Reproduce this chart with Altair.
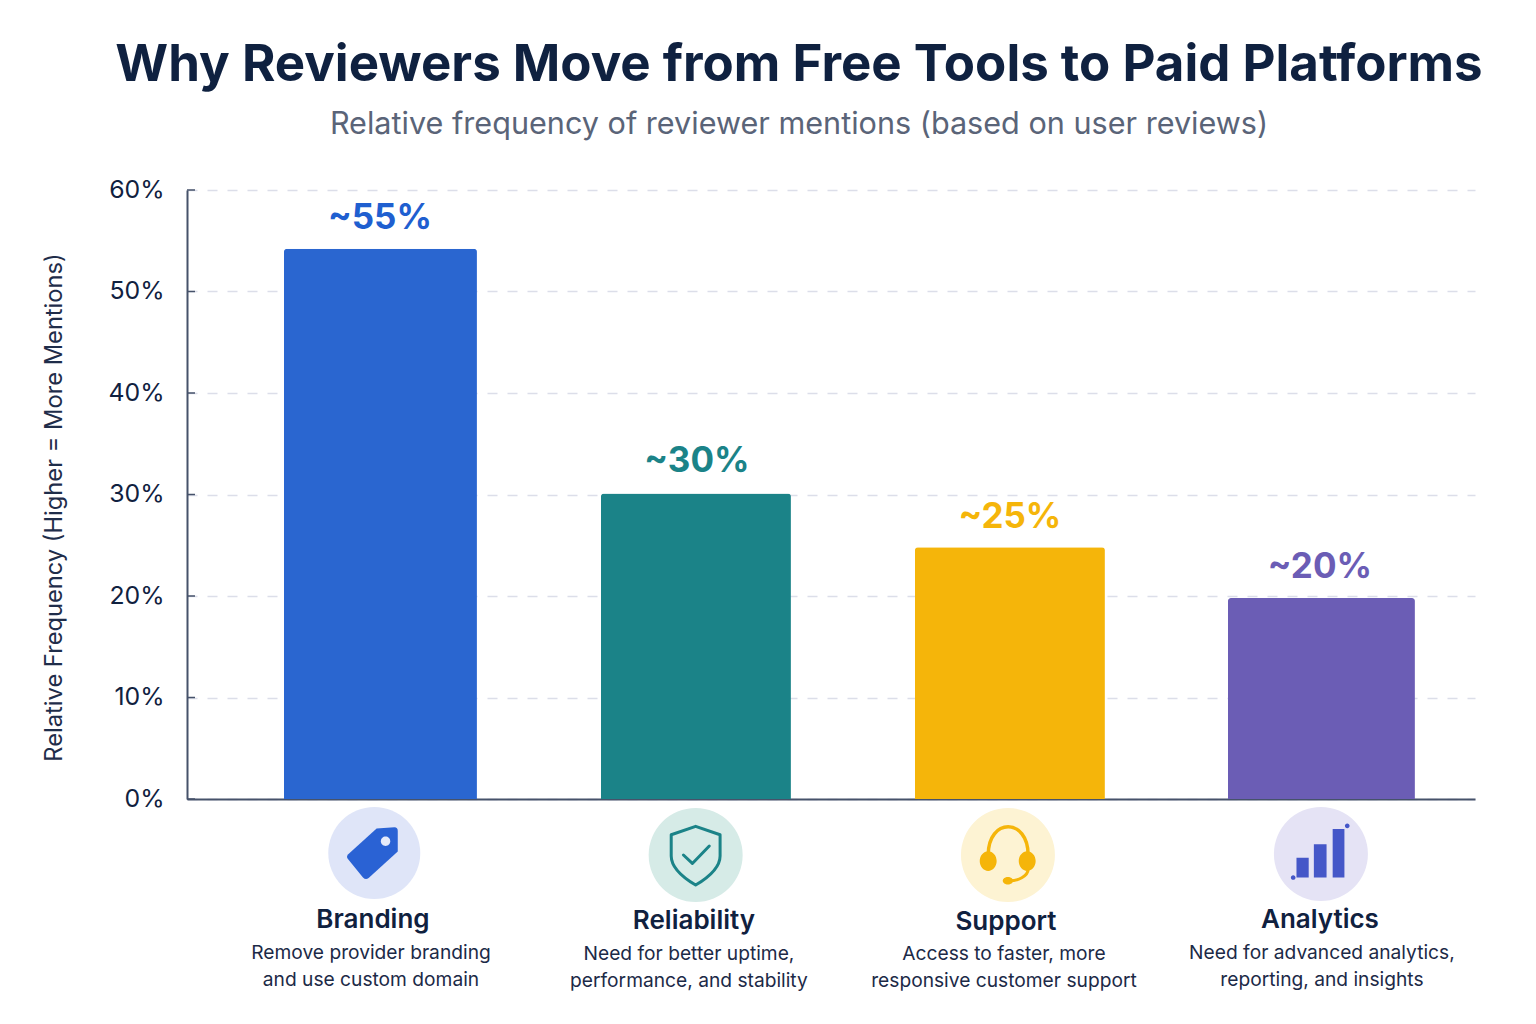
import altair as alt
import pandas as pd

categories = ["Branding", "Reliability", "Support", "Analytics"]
values = [54.2, 30.1, 24.8, 19.8]
value_labels = ["~55%", "~30%", "~25%", "~20%"]
desc_line1 = ["Remove provider branding", "Need for better uptime,", "Access to faster, more", "Need for advanced analytics,"]
desc_line2 = ["and use custom domain", "performance, and stability", "responsive customer support", "reporting, and insights"]
y_ticks = [0, 10, 20, 30, 40, 50, 60]

bar_colors = ["#2a66d0", "#1b8388", "#f5b50a", "#6b5db5"]
disc_colors = ["#dfe5f8", "#d6ebe7", "#fdf3d3", "#e5e3f5"]
INK = "#10213f"
FONT = "Inter"

# layout tweaks per category (px offsets from band centre, px widths, px heights in plot coords)
bar_w = [193, 190, 190, 187]
bar_dx = [0, 1.5, 1.5, -1]
label_dx = [-0.5, 2.5, 1.5, -2.5]
label_dy = [-31, -32, -30, -31]
icon_dx = [-6.2, 1.2, -0.5, -1.5]
icon_y = [663, 665, 665, 664]
disc_d = [92, 94, 94, 94]
name_dx = [-7.5, -0.5, -2.5, -2.5]
name_y = [730, 731, 732, 730]
desc_dx = [-9.5, -5.5, -4.5, -0.5]
desc_y1 = [763, 764, 764, 763]
desc_y2 = [790, 791, 791, 790]

tag = ("M0.05,-0.52 L0.43,-0.55 Q0.5,-0.55 0.5,-0.47 L0.5,-0.03 L-0.12,0.53 Q-0.18,0.58 -0.24,0.52 "
       "L-0.56,0.13 Q-0.6,0.08 -0.56,0.03 Z")
tag_hole = "M0.14,-0.25 A0.1,0.1 0 1,0 0.34,-0.25 A0.1,0.1 0 1,0 0.14,-0.25 Z"
shield = ("M0,-0.61 L0.52,-0.43 L0.52,0.02 C0.52,0.3 0.2,0.52 0,0.64 C-0.2,0.52 -0.52,0.3 -0.52,0.02 "
          "L-0.52,-0.43 Z")
check = "M-0.26,0 L-0.07,0.18 L0.29,-0.19"
band = "M-0.42,0 C-0.42,-0.8 0.43,-0.8 0.43,0"
arm = "M0.43,0.3 C0.43,0.46 0.2,0.55 0.04,0.55"
cups = ("M-0.6,0.13 A0.18,0.21 0 1,1 -0.24,0.13 A0.18,0.21 0 1,1 -0.6,0.13 Z "
        "M0.23,0.13 A0.18,0.21 0 1,1 0.59,0.13 A0.18,0.21 0 1,1 0.23,0.13 Z "
        "M-0.11,0.55 A0.11,0.08 0 1,1 0.11,0.55 A0.11,0.08 0 1,1 -0.11,0.55 Z")
bars_icon = ("M-0.52,0.08 L-0.26,0.08 L-0.26,0.5 L-0.52,0.5 Z "
             "M-0.15,-0.21 L0.12,-0.21 L0.12,0.5 L-0.15,0.5 Z "
             "M0.25,-0.53 L0.5,-0.53 L0.5,0.5 L0.25,0.5 Z "
             "M0.51,-0.6 A0.05,0.05 0 1,1 0.61,-0.6 A0.05,0.05 0 1,1 0.51,-0.6 Z "
             "M-0.64,0.5 A0.05,0.05 0 1,1 -0.54,0.5 A0.05,0.05 0 1,1 -0.64,0.5 Z")

icons = [
    [(tag, "#2a62d4", None, 0), (tag_hole, "#e6ebfa", None, 0)],
    [(shield, None, "#1b8388", 3), (check, None, "#1b8388", 3)],
    [(band, None, "#f5b50a", 3.5), (arm, None, "#f5b50a", 3), (cups, "#f5b50a", None, 0)],
    [(bars_icon, "#4557c8", None, 0)],
]

df = pd.DataFrame({"category": categories, "value": values, "label": value_labels,
                   "line1": desc_line1, "line2": desc_line2})

x_enc = alt.X(
    "category:N",
    sort=categories,
    scale=alt.Scale(domain=categories, paddingInner=0.3949, paddingOuter=0.2485, align=0.631, round=False),
    axis=alt.Axis(title=None, labels=False, ticks=False, domain=True, domainColor="#46526a",
                  domainWidth=2, grid=False),
)
y_scale = alt.Scale(domain=[0, 60], nice=False)
y_axis = alt.Axis(
    values=y_ticks, labelExpr="datum.value + '%'", title="Relative Frequency (Higher = More Mentions)",
    titleFont=FONT, titleFontSize=23.7, titleFontWeight=400, titleColor="#1f2d4a", titlePadding=41,
    titleY=317,
    labelFont=FONT, labelFontSize=24.8, labelColor=INK, labelPadding=23, ticks=False,
    domain=True, domainColor="#46526a", domainWidth=2,
    grid=True, gridColor="#dcdee9", gridDash=[10, 10], gridWidth=1.5,
)
y_enc = alt.Y("value:Q", scale=y_scale, axis=y_axis, title="Relative Frequency (Higher = More Mentions)")

layers = []

tick_df = pd.DataFrame({"tick": y_ticks})
layers.append(
    alt.Chart(tick_df).mark_rule(color="#46526a", strokeWidth=1.5).encode(
        y=alt.Y("tick:Q", scale=y_scale, axis=y_axis, title="Relative Frequency (Higher = More Mentions)"),
        x=alt.value(0), x2=alt.value(8),
    )
)

for i, cat in enumerate(categories):
    row = df[df.category == cat]
    layers.append(
        alt.Chart(row).mark_bar(
            color=bar_colors[i], width=bar_w[i], xOffset=bar_dx[i],
            cornerRadiusTopLeft=3, cornerRadiusTopRight=3,
        ).encode(x=x_enc, y=y_enc)
    )
    layers.append(
        alt.Chart(row).mark_text(
            font=FONT, fontSize=35, fontWeight=700, color=bar_colors[i] if i != 0 else "#1f5fd0",
            baseline="middle", dx=label_dx[i], dy=label_dy[i],
        ).encode(x=x_enc, y=y_enc, text="label:N")
    )
    layers.append(
        alt.Chart(row).mark_point(
            shape="circle", filled=True, fill=disc_colors[i], opacity=1, strokeWidth=0,
            size=disc_d[i] ** 2, xOffset=icon_dx[i],
        ).encode(x=x_enc, y=alt.value(icon_y[i]))
    )
    for path, fill, stroke, sw in icons[i]:
        kw = dict(shape=path, opacity=1, size=94 ** 2, xOffset=icon_dx[i])
        if fill:
            kw.update(filled=True, fill=fill, strokeWidth=0)
        else:
            kw.update(filled=False, stroke=stroke, strokeWidth=sw, strokeJoin="round", strokeCap="round")
        layers.append(
            alt.Chart(row).mark_point(**kw).encode(x=x_enc, y=alt.value(icon_y[i]))
        )
    layers.append(
        alt.Chart(row).mark_text(
            font=FONT, fontSize=26, fontWeight=600, color=INK, baseline="middle", dx=name_dx[i],
        ).encode(x=x_enc, y=alt.value(name_y[i]), text="category:N")
    )
    for field, yy in (("line1", desc_y1[i]), ("line2", desc_y2[i])):
        layers.append(
            alt.Chart(row).mark_text(
                font=FONT, fontSize=19.2, fontWeight=400, color="#1c2a47", baseline="middle", dx=desc_dx[i],
            ).encode(x=x_enc, y=alt.value(yy), text=f"{field}:N")
        )

chart = (
    alt.layer(*layers)
    .resolve_scale(x="shared", y="shared")
    .properties(
        width=1288,
        height=609,
        padding={"left": 179, "top": 182, "right": 40, "bottom": 215},
        autosize=alt.AutoSizeParams(type="none"),
        background="white",
        title=alt.TitleParams(
            text="Why Reviewers Move from Free Tools to Paid Platforms",
            subtitle="Relative frequency of reviewer mentions (based on user reviews)",
            font=FONT, fontSize=51, fontWeight=700, color="#0f2140",
            subtitleFont=FONT, subtitleFontSize=30.6, subtitleFontWeight=400, subtitleColor="#5a6478",
            subtitlePadding=18, anchor="middle", dx=-32, offset=35,
        ),
    )
    .configure_view(stroke=None)
)

chart.save("out.html", embed_options={"renderer": "svg", "actions": False})
